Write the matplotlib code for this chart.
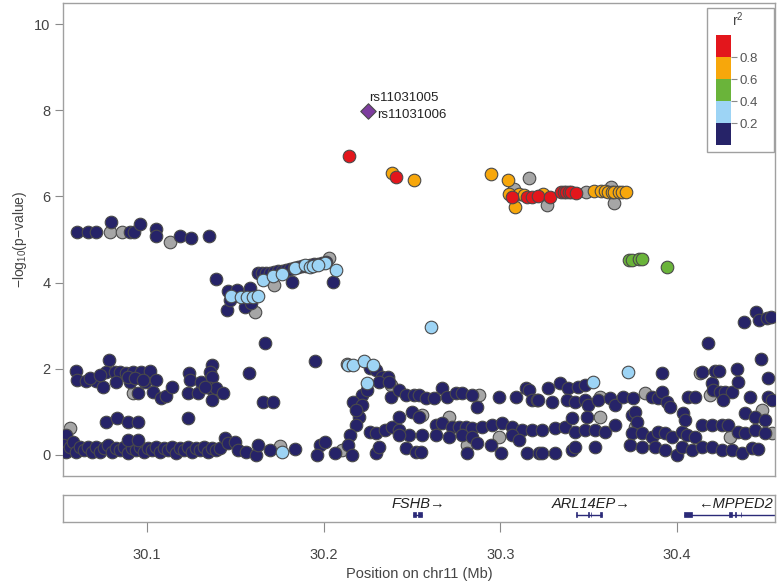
import matplotlib
matplotlib.use('Agg')
import matplotlib.pyplot as plt
from matplotlib.patches import Rectangle
from matplotlib.colors import ListedColormap, BoundaryNorm
from matplotlib.cm import ScalarMappable

plt.rcParams['font.family'] = ['Liberation Sans', 'DejaVu Sans']
plt.rcParams['mathtext.default'] = 'regular'

# ---------------- data (position in Mb, -log10 p) ----------------
navy_pos = [
    30.0605, 30.0667, 30.0712, 30.0797, 30.0904, 30.0927, 30.0960, 30.1051, 30.1051, 30.1186, 30.1249, 30.1350,
    30.1390,
    30.1458, 30.1508, 30.1582, 30.1452, 30.1554, 30.1588, 30.1469,
    30.1627, 30.1650, 30.1672, 30.1695, 30.1718, 30.1740, 30.1763, 30.1785, 30.1808, 30.1831, 30.1853, 30.1876,
    30.1898, 30.1921, 30.1944, 30.1966, 30.1989, 30.2011, 30.1819, 30.2051,
    30.4379, 30.4446, 30.4463, 30.4508, 30.4530, 30.4175,
    # left band 1.2-2.2
    30.0599, 30.0785, 30.0605, 30.0655, 30.0712, 30.0751, 30.0768, 30.0819, 30.0847, 30.0881, 30.0921, 30.0966,
    30.1017, 30.0825, 30.0904, 30.0989, 30.1051, 30.0949, 30.1034, 30.1079, 30.1107, 30.1141, 30.1237, 30.1243,
    30.1232, 30.1288, 30.1305, 30.1367, 30.1356, 30.1367, 30.1356, 30.1390, 30.1429, 30.1367, 30.1576, 30.1667,
    30.1655, 30.1712, 30.0678, 30.0734, 30.0893, 30.0932, 30.0977, 30.1328,
    # left band ~0.8
    30.0768, 30.0831, 30.0893, 30.0949, 30.1232,
    # left baseline
    30.0542, 30.0525, 30.0542, 30.0565, 30.0582, 30.0599, 30.0621, 30.0644, 30.0667, 30.0689, 30.0712, 30.0734,
    30.0757, 30.0780, 30.0802, 30.0825, 30.0847, 30.0870, 30.0893, 30.0915, 30.0938, 30.0960, 30.0983, 30.1006,
    30.1028, 30.1051, 30.1073, 30.1096, 30.1119, 30.1141, 30.1164, 30.1186, 30.1209, 30.1232, 30.1254, 30.1277,
    30.1299, 30.1322, 30.1345, 30.1367, 30.1390, 30.1412, 30.1441, 30.1458, 30.1497, 30.1514, 30.1559, 30.1616,
    30.1627, 30.1695, 30.1836, 30.0893, 30.0949,
    # middle
    30.1949, 30.2260, 30.2299, 30.2328, 30.2362, 30.2316, 30.2373, 30.2215, 30.2164, 30.2215, 30.2203, 30.2186,
    30.2147, 30.2136, 30.2158, 30.1977, 30.2006, 30.1960, 30.2062, 30.2299, 30.2316, 30.2260, 30.2299, 30.2345,
    30.2390, 30.2429, 30.2486, 30.2429, 30.2469, 30.2525, 30.2554, 30.2559, 30.2429, 30.2503, 30.2542, 30.2638,
    30.2672, 30.2729, 30.2768, 30.2808, 30.2842, 30.2898, 30.2955, 30.3011, 30.3068, 30.3124, 30.3181, 30.2638,
    30.2712, 30.2785, 30.2842, 30.2870, 30.2949, 30.3068, 30.3107, 30.2814, 30.3006, 30.3153, 30.3220,
    30.2384, 30.2429, 30.2469, 30.2514, 30.2542, 30.2582, 30.2627, 30.2672, 30.2701, 30.2751, 30.2785, 30.2842,
    30.2870, 30.2994, 30.3090, 30.3147, 30.3164, 30.3181, 30.3209, 30.2243, 30.2186,
    # right
    30.3215, 30.3271, 30.3339, 30.3384, 30.3441, 30.3480, 30.3294, 30.3379, 30.3424, 30.3480, 30.3497, 30.3554,
    30.3621, 30.3650, 30.3695, 30.3751, 30.3859, 30.3893, 30.3915, 30.3944, 30.3960, 30.4062, 30.4102, 30.4141,
    30.4198, 30.4203, 30.4243, 30.4271, 30.4311, 30.4260, 30.4345, 30.4412, 30.4514, 30.4537, 30.4384, 30.4441,
    30.4497, 30.3915, 30.4215, 30.4237, 30.4339, 30.4475, 30.4514,
    30.3237, 30.3311, 30.3367, 30.3407, 30.3424, 30.3480, 30.3492, 30.3537, 30.3593, 30.3650, 30.3746, 30.3763,
    30.3774, 30.3746, 30.3802, 30.3859, 30.3893, 30.3932, 30.3972, 30.4028, 30.4034, 30.4045, 30.4056, 30.4102,
    30.4141, 30.4198, 30.4254, 30.4288, 30.4345, 30.4384, 30.4441, 30.4497,
    30.3237, 30.3311, 30.3407, 30.3424, 30.3537, 30.3734, 30.3802, 30.3876, 30.3932, 30.4000, 30.4028, 30.4085,
    30.4141, 30.4198, 30.4254, 30.4311, 30.4367, 30.4424, 30.4458,
]
navy_logp = [
    5.17, 5.17, 5.17, 5.41, 5.17, 5.17, 5.36, 5.24, 5.08, 5.08, 5.03, 5.08,
    4.08,
    3.81, 3.83, 3.87, 3.36, 3.43, 3.53, 3.60,
    4.22, 4.22, 4.22, 4.22, 4.25, 4.27, 4.27, 4.29, 4.32, 4.34, 4.36, 4.39,
    4.39, 4.41, 4.43, 4.43, 4.45, 4.48, 4.01, 4.01,
    3.09, 3.32, 3.13, 3.18, 3.20, 2.60,
    1.95, 2.20, 1.74, 1.72, 1.72, 1.58, 1.93, 1.93, 1.93, 1.90, 1.93, 1.93,
    1.95, 1.69, 1.69, 1.69, 1.74, 1.44, 1.46, 1.32, 1.37, 1.58, 1.90, 1.74,
    1.44, 1.44, 1.69, 2.09, 1.93, 1.81, 1.55, 1.55, 1.44, 1.28, 1.90, 2.60,
    1.23, 1.23, 1.79, 1.86, 1.81, 1.79, 1.74, 1.58,
    0.77, 0.86, 0.77, 0.77, 0.86,
    0.46, 0.23, 0.07, 0.19, 0.30, 0.07, 0.19, 0.12, 0.19, 0.07, 0.19, 0.07,
    0.16, 0.23, 0.07, 0.16, 0.12, 0.19, 0.05, 0.16, 0.12, 0.19, 0.07, 0.16,
    0.12, 0.19, 0.07, 0.16, 0.12, 0.19, 0.05, 0.16, 0.12, 0.19, 0.07, 0.16,
    0.12, 0.19, 0.07, 0.16, 0.12, 0.16, 0.39, 0.28, 0.30, 0.12, 0.07, 0.00,
    0.23, 0.12, 0.14, 0.35, 0.35,
    2.18, 2.02, 1.97, 1.81, 1.81, 1.69, 1.69, 1.39, 1.23, 1.16, 0.88, 0.70,
    0.46, 0.23, 0.00, 0.23, 0.30, 0.00, 0.05, 0.05, 0.19, 0.53, 0.51, 0.58,
    0.65, 0.58, 0.46, 0.46, 0.16, 0.07, 0.07, 0.46, 0.88, 1.00, 0.88, 0.70,
    0.74, 0.65, 0.65, 0.65, 0.63, 0.65, 0.70, 0.74, 0.65, 0.58, 0.58, 0.46,
    0.42, 0.46, 0.42, 0.28, 0.23, 0.46, 0.35, 0.05, 0.05, 0.05, 0.05,
    1.35, 1.51, 1.39, 1.39, 1.39, 1.32, 1.32, 1.55, 1.35, 1.44, 1.44, 1.39,
    1.11, 1.35, 1.35, 1.55, 1.51, 1.28, 1.28, 1.51, 1.04,
    1.28, 1.55, 1.67, 1.55, 1.58, 1.62, 1.23, 1.28, 1.23, 1.28, 1.16, 1.28,
    1.32, 1.16, 1.35, 1.32, 1.35, 1.32, 1.46, 1.23, 1.11, 1.35, 1.35, 1.93,
    1.67, 1.51, 1.46, 1.46, 1.46, 1.28, 1.69, 1.35, 1.35, 1.28, 0.97, 0.88,
    0.81, 1.90, 1.95, 1.95, 2.00, 2.23, 1.79,
    0.58, 0.63, 0.65, 0.86, 0.53, 0.58, 0.88, 0.58, 0.53, 0.70, 0.93, 1.00,
    0.77, 0.51, 0.51, 0.42, 0.53, 0.51, 0.42, 0.53, 0.97, 0.81, 0.46, 0.42,
    0.70, 0.70, 0.70, 0.70, 0.53, 0.51, 0.58, 0.51,
    0.05, 0.05, 0.12, 0.19, 0.19, 0.23, 0.19, 0.19, 0.12, 0.00, 0.19, 0.12,
    0.19, 0.19, 0.12, 0.12, 0.05, 0.16, 0.14,
]

gray_pos = [30.0791, 30.0859, 30.1130, 30.1610, 30.2028, 30.1718, 30.0921, 30.0565, 30.1751, 30.2107,
            30.2384, 30.2559, 30.2712, 30.2881, 30.2814, 30.2994, 30.2130,
            30.3565, 30.3819, 30.4186, 30.4130, 30.3565, 30.3763, 30.4299, 30.4480, 30.4537,
            30.3164, 30.3079, 30.3266, 30.3486, 30.3627, 30.3644]
gray_logp = [5.17, 5.17, 4.94, 3.32, 4.57, 3.95, 1.44, 0.63, 0.21, 0.12,
             1.62, 0.93, 0.88, 1.39, 0.23, 0.42, 2.11,
             1.35, 1.44, 1.39, 1.90, 0.88, 0.65, 0.42, 1.04, 0.51,
             6.43, 6.17, 5.80, 6.10, 6.22, 5.85]

lblue_pos = [30.1475, 30.1531, 30.1565, 30.1599, 30.1627,
             30.1655, 30.1712, 30.1763, 30.1836, 30.1893, 30.1921, 30.1938, 30.2006, 30.2073, 30.1966,
             30.1763, 30.2136, 30.2164, 30.2226, 30.2277, 30.2243, 30.2610, 30.3525, 30.3723]
lblue_logp = [3.69, 3.67, 3.67, 3.67, 3.69,
              4.06, 4.15, 4.20, 4.34, 4.41, 4.36, 4.39, 4.45, 4.29, 4.41,
              0.07, 2.09, 2.09, 2.18, 2.09, 1.67, 2.97, 1.69, 1.93]

green_pos = [30.3729, 30.3746, 30.3785, 30.3802, 30.3944]
green_logp = [4.52, 4.52, 4.55, 4.55, 4.36]

orange_pos = [30.2390, 30.2514, 30.2950, 30.3045, 30.3051, 30.3107, 30.3136, 30.3243, 30.3085,
              30.3531, 30.3571, 30.3590, 30.3610, 30.3630, 30.3644, 30.3672, 30.3690, 30.3712]
orange_logp = [6.54, 6.38, 6.52, 6.38, 6.06, 6.06, 6.03, 6.06, 5.75,
               6.13, 6.13, 6.13, 6.10, 6.10, 6.10, 6.10, 6.10, 6.10]

red_pos = [30.2141, 30.2412, 30.3068, 30.3153, 30.3181, 30.3215, 30.3282,
           30.3345, 30.3362, 30.3373, 30.3390, 30.3401, 30.3429]
red_logp = [6.94, 6.45, 5.99, 5.99, 5.99, 6.01, 5.99,
            6.10, 6.10, 6.10, 6.10, 6.10, 6.08]

lead_pos = [30.2254]
lead_logp = [7.98]
lead_names = ['rs11031005', 'rs11031006']

legend_colors = ['#262368', '#9DD4F5', '#6AB43A', '#F7A70B', '#E3161C']
legend_bounds = [0.0, 0.2, 0.4, 0.6, 0.8, 1.0]
gray_color = '#A6A6A6'
lead_color = '#7D3C9E'

genes = ['FSHB', 'ARL14EP', 'MPPED2']
gene_start = [30.2508, 30.3429, 30.4040]
gene_end = [30.2559, 30.3576, 30.4600]
gene_strand = ['+', '+', '-']
gene_exons = [[(30.2508, 30.2525), (30.2536, 30.2559)],
              [(30.3429, 30.3432), (30.3494, 30.3500), (30.3511, 30.3516), (30.3565, 30.3576)],
              [(30.4040, 30.4085), (30.4292, 30.4311), (30.4330, 30.4336), (30.4360, 30.4365)]]
gene_label_x = [30.2534, 30.3514, 30.4328]

xticks = [30.1, 30.2, 30.3, 30.4]
yticks = [0, 2, 4, 6, 8, 10]

# ---------------- figure ----------------
W, H = 777, 582
fig = plt.figure(figsize=(W / 100, H / 100), dpi=100)

def fbox(l, t, r, b):
    return [l / W, 1 - b / H, (r - l) / W, (b - t) / H]

ax = fig.add_axes(fbox(63, 3, 775, 476))
ax.set_xlim(30.0525, 30.4555)
ax.set_ylim(-0.49, 10.49)

edge = '#4A4A4A'
kw = dict(s=82, edgecolors=edge, linewidths=0.8)
ax.scatter(gray_pos, gray_logp, c=gray_color, zorder=2, **kw)
ax.scatter(navy_pos, navy_logp, c=legend_colors[0], zorder=3, **kw)
ax.scatter(lblue_pos, lblue_logp, c=legend_colors[1], zorder=4, **kw)
ax.scatter(green_pos, green_logp, c=legend_colors[2], zorder=5, **kw)
ax.scatter(orange_pos, orange_logp, c=legend_colors[3], zorder=6, **kw)
ax.scatter(red_pos, red_logp, c=legend_colors[4], zorder=7, **kw)
ax.scatter(lead_pos, lead_logp, c=lead_color, marker='D', s=62,
           edgecolors=edge, linewidths=0.8, zorder=8)

ax.text(lead_pos[0] + 0.0004, lead_logp[0] + 0.31, lead_names[0], ha='left', va='center',
        fontsize=9.5, color='#222222', zorder=9)
ax.text(lead_pos[0] + 0.0050, lead_logp[0] - 0.08, lead_names[1], ha='left', va='center',
        fontsize=9.5, color='#222222', zorder=9)

for sp in ax.spines.values():
    sp.set_color('#A0A0A0')
    sp.set_linewidth(1.0)
ax.set_xticks([])
ax.set_yticks(yticks)
ax.set_yticklabels([str(v) for v in yticks])
ax.tick_params(axis='y', length=6, width=0.8, color='#8A8A8A', labelcolor='#444444',
               labelsize=10.5, pad=3)
ax.set_ylabel('\u2212log$_{10}$(p\u2212value)', fontsize=10, color='#444444', labelpad=4)

# legend frame
ax.add_patch(Rectangle((707 / W, 1 - 152 / H), 67 / W, 144 / H, transform=fig.transFigure,
                       facecolor='white', edgecolor='#A0A0A0', linewidth=1.0, zorder=20))
lax = fig.add_axes(fbox(716, 35, 731, 145))
lax.set_zorder(30)
cb = fig.colorbar(ScalarMappable(norm=BoundaryNorm(legend_bounds, 5),
                                 cmap=ListedColormap(legend_colors)),
                  cax=lax, ticks=[0.2, 0.4, 0.6, 0.8])
cb.outline.set_visible(False)
cb.ax.minorticks_off()
cb.ax.set_yticks([0.2, 0.4, 0.6, 0.8])
cb.ax.set_yticklabels(['0.2', '0.4', '0.6', '0.8'])
cb.ax.tick_params(length=4, width=0.8, color='#8A8A8A', labelcolor='#555555', labelsize=9.5, pad=2)
fig.text(738 / W, 1 - 20 / H, 'r$^2$', ha='center', va='center', fontsize=10,
         color='#444444', zorder=40)

# gene track
gax = fig.add_axes(fbox(63, 495, 775, 522))
gax.set_xlim(30.0525, 30.4555)
gax.set_ylim(0, 1)
for sp in gax.spines.values():
    sp.set_color('#A0A0A0')
    sp.set_linewidth(1.0)
gene_col = '#2B2A78'
gy = 0.27
for name, s, e, strand, exons, lx in zip(genes, gene_start, gene_end, gene_strand,
                                          gene_exons, gene_label_x):
    gax.plot([s, e], [gy, gy], color=gene_col, lw=1.0, solid_capstyle='butt', clip_on=True)
    for (a, b) in exons:
        gax.add_patch(Rectangle((a, gy - 0.09), b - a, 0.18, facecolor=gene_col,
                                edgecolor=gene_col, lw=0.5))
    label = name + '\u2192' if strand == '+' else '\u2190' + name
    gax.text(lx, 0.65, label, ha='center', va='center', fontsize=10.5, style='italic',
             color='#222222')
gax.set_yticks([])
gax.set_xticks(xticks)
gax.set_xticklabels([f'{v:.1f}' for v in xticks])
gax.tick_params(axis='x', direction='out', length=7.5, width=0.8, color='#8A8A8A',
                labelcolor='#444444', labelsize=10.5, pad=11)
gax.set_xlabel('Position on chr11 (Mb)', fontsize=10.5, color='#444444', labelpad=4)

fig.savefig('out.png', dpi=100)
